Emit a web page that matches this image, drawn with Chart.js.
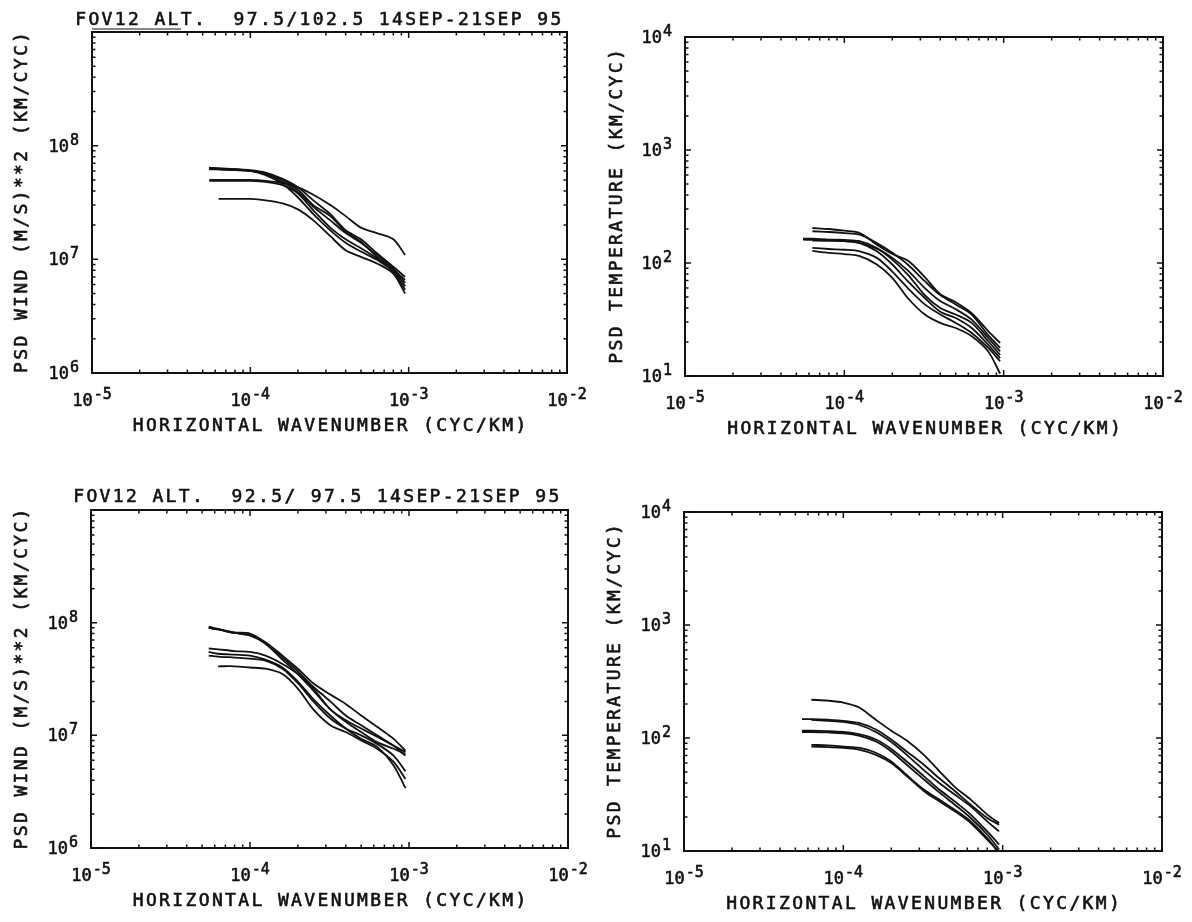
<!DOCTYPE html>
<html>
<head>
<meta charset="utf-8">
<script src="https://cdn.jsdelivr.net/npm/chart.js@4.4.1/dist/chart.umd.min.js"></script>
<style>
  html, body { margin: 0; padding: 0; background: #fff; }
  #page { position: relative; width: 1192px; height: 922px; background: #fff; }
  canvas { position: absolute; }
</style>
</head>
<body>
<div id="page">
  <canvas id="windHigh" width="596" height="461" style="left:0;top:0"></canvas>
  <canvas id="tempHigh" width="596" height="461" style="left:596px;top:0"></canvas>
  <canvas id="windLow" width="596" height="461" style="left:0;top:461px"></canvas>
  <canvas id="tempLow" width="596" height="461" style="left:596px;top:461px"></canvas>
</div>
<script>
// wavenumbers (cyc/km) where the spectra are sampled
const wavenumber = [5.5e-5, 6.3e-5, 8.0e-5, 1.0e-4, 1.25e-4, 1.6e-4, 2.0e-4, 2.5e-4, 3.2e-4, 4.0e-4, 5.0e-4, 6.3e-4, 8.0e-4, 9.5e-4];

// tick labels (powers of ten)
const xTickExps = [-5, -4, -3, -2];
const windTickExps = [6, 7, 8];
const tempTickExps = [1, 2, 3, 4];

// titles
const titleHigh = "FOV12 ALT.  97.5/102.5 14SEP-21SEP 95";
const titleLow = "FOV12 ALT.  92.5/ 97.5 14SEP-21SEP 95";
const windAxisTitle = "PSD WIND (M/S)**2 (KM/CYC)";
const tempAxisTitle = "PSD TEMPERATURE (KM/CYC)";
const xAxisTitle = "HORIZONTAL WAVENUMBER (CYC/KM)";

// 97.5/102.5 km wind spectra
const windHigh = [
  [6.4e7, 6.3e7, 6.2e7, 6.1e7, 5.8e7, 5.1e7, 4.3e7, 3.3e7, 2.5e7, 1.8e7, 1.5e7, 1.13e7, 8.6e6, 7.0e6],
  [6.3e7, 6.2e7, 6.1e7, 6.0e7, 5.6e7, 4.8e7, 3.9e7, 2.9e7, 2.2e7, 1.7e7, 1.4e7, 1.09e7, 8.3e6, 6.2e6],
  [6.2e7, 6.2e7, 6.1e7, 6.0e7, 5.5e7, 4.6e7, 3.5e7, 2.5e7, 1.8e7, 1.4e7, 1.17e7, 9.9e6, 7.8e6, 5.4e6],
  [5.0e7, 5.0e7, 5.0e7, 5.0e7, 4.9e7, 4.7e7, 4.3e7, 3.7e7, 3.0e7, 2.4e7, 1.9e7, 1.7e7, 1.5e7, 1.09e7],
  [4.9e7, 4.9e7, 4.9e7, 4.9e7, 4.8e7, 4.5e7, 3.8e7, 2.7e7, 1.9e7, 1.5e7, 1.25e7, 1.02e7, 8.1e6, 6.6e6],
  [null, 3.4e7, 3.4e7, 3.4e7, 3.3e7, 3.1e7, 2.75e7, 2.2e7, 1.6e7, 1.2e7, 1.05e7, 9.2e6, 7.5e6, 5.0e6],
  [6.3e7, 6.3e7, 6.2e7, 6.0e7, 5.7e7, 5.0e7, 4.1e7, 3.0e7, 2.4e7, 1.75e7, 1.43e7, 1.05e7, 8.1e6, 5.8e6]
];

// 97.5/102.5 km temperature spectra
const tempHigh = [
  [null, 204, 200, 193, 184, 145, 120, 105, 75, 53, 45, 36, 25, 19.6],
  [null, 191, 188, 184, 178, 150, 123, 97, 69, 52, 43, 35, 23, 17.7],
  [164, 164, 161, 160, 156, 136, 107, 79, 52, 40, 35, 29.5, 20.3, 15.4],
  [null, 158, 158, 156, 150, 127, 97, 69, 49, 37, 32.6, 26.6, 18.9, 14.4],
  [null, 136, 133, 131, 127, 111, 84, 60, 43, 35, 29.5, 24, 17.7, 13.5],
  [null, 128, 123, 120, 115, 97, 74, 49, 35, 29.5, 26.6, 22.5, 16.5, 10.5],
  [161, 160, 158, 156, 151, 134, 111, 86, 60, 46, 39, 31.5, 21.7, 16.5]
];

// 92.5/97.5 km wind spectra
const windLow = [
  [9.2e7, 8.8e7, 8.2e7, 8.0e7, 6.7e7, 5.1e7, 3.9e7, 2.9e7, 2.3e7, 1.9e7, 1.5e7, 1.19e7, 9.3e6, 7.3e6],
  [9.0e7, 8.7e7, 8.1e7, 7.7e7, 6.5e7, 4.7e7, 3.5e7, 2.5e7, 1.7e7, 1.36e7, 1.15e7, 9.7e6, 8.1e6, 7.1e6],
  [5.9e7, 5.8e7, 5.6e7, 5.5e7, 5.1e7, 4.3e7, 3.5e7, 2.6e7, 1.7e7, 1.32e7, 1.07e7, 8.7e6, 7.6e6, 6.8e6],
  [5.1e7, 5.0e7, 4.9e7, 4.8e7, 4.6e7, 3.9e7, 2.9e7, 2.0e7, 1.41e7, 1.15e7, 1.0e7, 8.4e6, 6.6e6, 4.8e6],
  [null, 4.1e7, 4.1e7, 4.0e7, 3.9e7, 3.5e7, 2.6e7, 1.7e7, 1.23e7, 1.07e7, 9.0e6, 7.6e6, 5.8e6, 4.1e6],
  [5.5e7, 5.3e7, 5.2e7, 5.1e7, 4.7e7, 4.0e7, 3.0e7, 2.1e7, 1.5e7, 1.15e7, 9.3e6, 7.9e6, 5.4e6, 3.4e6],
  [9.0e7, 8.7e7, 8.1e7, 7.7e7, 6.6e7, 4.9e7, 3.7e7, 2.7e7, 2.0e7, 1.5e7, 1.23e7, 1.0e7, 8.1e6, 6.6e6]
];

// 92.5/97.5 km temperature spectra
const tempLow = [
  [null, 218, 214, 206, 187, 145, 116, 95, 71, 51, 37, 28.5, 21, 17.7],
  [147, 147, 145, 142, 136, 119, 97, 76, 58, 44, 34, 25.7, 19.6, 17.1],
  [null, 145, 142, 139, 131, 113, 92, 71, 52, 40, 31.6, 24.8, 18.3, 14.9],
  [116, 116, 115, 113, 108, 97, 80, 62, 46, 35, 27.5, 21, 14.9, 11.4],
  [113, 113, 112, 110, 105, 93, 76, 58, 43, 33, 25.7, 19.6, 14.0, 10.3],
  [null, 87, 86, 84, 82, 74, 62, 47, 35, 28.5, 23.2, 18.3, 13.0, 9.6],
  [null, 84, 83, 82, 79, 71, 60, 46, 34, 27.5, 22.5, 17.7, 12.6, 9.8]
];

const INK = "#111";
const TEXT_FONT = '18px "DejaVu Sans Mono", monospace';
const BASE_FONT = '17px "DejaVu Sans Mono", monospace';
const SUP_FONT = '15px "DejaVu Sans Mono", monospace';
const STEP = 13.2;

// draw text a bit heavier, like plotter pen lettering
function inkText(ctx, s, x, y) {
  ctx.fillText(s, x, y);
  ctx.strokeText(s, x, y);
}

// monospaced text with a wide character cell
function cellText(ctx, text, x, y) {
  ctx.textAlign = "center";
  for (let i = 0; i < text.length; i++) {
    if (text[i] !== " ") inkText(ctx, text[i], x + (i + 0.5) * STEP, y);
  }
}

function powerLabel(ctx, exp, x, y, align) {
  const sup = String(exp);
  ctx.textAlign = "left";
  ctx.font = BASE_FONT;
  const bw = ctx.measureText("10").width;
  ctx.font = SUP_FONT;
  const sw = ctx.measureText(sup).width;
  const total = bw + 1 + sw;
  const left = align === "center" ? x - total / 2 : x - total;
  ctx.font = BASE_FONT;
  inkText(ctx, "10", left, y);
  ctx.font = SUP_FONT;
  inkText(ctx, sup, left + bw + 1, y - 7);
}

function logSteps(min, max) {
  const out = [];
  for (let e = Math.round(Math.log10(min)); e < Math.round(Math.log10(max)); e++) {
    for (let m = 1; m < 10; m++) out.push([m * Math.pow(10, e), m === 1]);
  }
  out.push([max, true]);
  return out;
}

const framePlugin = {
  id: "frame",
  afterDraw(chart, args, opts) {
    const { ctx, chartArea: a, scales } = chart;
    const xs = scales.x, ys = scales.y;
    ctx.save();
    ctx.strokeStyle = INK;
    ctx.fillStyle = INK;

    // frame
    ctx.lineWidth = 2;
    ctx.strokeRect(a.left, a.top, a.right - a.left, a.bottom - a.top);

    // inward ticks on all four sides
    ctx.lineWidth = 1.5;
    ctx.beginPath();
    logSteps(xs.min, xs.max).forEach(([v, major]) => {
      const px = xs.getPixelForValue(v);
      const len = major ? 6 : 3.5;
      ctx.moveTo(px, a.bottom); ctx.lineTo(px, a.bottom - len);
      ctx.moveTo(px, a.top); ctx.lineTo(px, a.top + len);
    });
    logSteps(ys.min, ys.max).forEach(([v, major]) => {
      const py = ys.getPixelForValue(v);
      const len = major ? 6 : 3.5;
      ctx.moveTo(a.left, py); ctx.lineTo(a.left + len, py);
      ctx.moveTo(a.right, py); ctx.lineTo(a.right - len, py);
    });
    ctx.stroke();

    // tick labels
    ctx.lineWidth = 0.6;
    ctx.textBaseline = "alphabetic";
    xTickExps.forEach((e) => {
      powerLabel(ctx, e, xs.getPixelForValue(Math.pow(10, e)), a.bottom + 33, "center");
    });
    opts.yTicks.forEach((e) => {
      powerLabel(ctx, e, a.left - 13, ys.getPixelForValue(Math.pow(10, e)) + 6, "right");
    });

    // titles
    ctx.font = TEXT_FONT;
    cellText(ctx, opts.title || "", opts.titleX, opts.titleY);
    const xw = xAxisTitle.length * STEP;
    cellText(ctx, xAxisTitle, (a.left + a.right) / 2 - xw / 2, a.bottom + 58);

    ctx.save();
    ctx.translate(opts.yTitleX, (a.top + a.bottom) / 2);
    ctx.rotate(-Math.PI / 2);
    ctx.textBaseline = "middle";
    cellText(ctx, opts.yTitle, -(opts.yTitle.length * STEP) / 2, 0);
    ctx.restore();

    if (opts.underline) {
      ctx.lineWidth = 1;
      ctx.beginPath();
      ctx.moveTo(a.left, a.top - 3);
      ctx.lineTo(a.left + 89, a.top - 3);
      ctx.stroke();
    }
    ctx.restore();
  }
};

function makePanel(id, series, yMin, yMax, frame, padding) {
  const datasets = series.map((vals) => ({
    data: wavenumber.map((k, i) => ({ x: k, y: vals[i] })),
    borderColor: INK,
    borderWidth: 1.8,
    pointRadius: 0,
    tension: 0.3,
    fill: false
  }));
  return new Chart(document.getElementById(id), {
    type: "line",
    data: { datasets },
    plugins: [framePlugin],
    options: {
      responsive: false,
      animation: false,
      layout: { padding },
      scales: {
        x: { type: "logarithmic", min: 1e-5, max: 1e-2, display: false },
        y: { type: "logarithmic", min: yMin, max: yMax, display: false }
      },
      plugins: {
        legend: { display: false },
        tooltip: { enabled: false },
        frame
      }
    }
  });
}

makePanel("windHigh", windHigh, 1e6, 1e9,
  { title: titleHigh, titleX: 74, titleY: 25, yTitle: windAxisTitle, yTitleX: 22, yTicks: windTickExps, underline: true },
  { left: 92, top: 32, right: 29, bottom: 88 });

makePanel("tempHigh", tempHigh, 1e1, 1e4,
  { title: "", titleX: 0, titleY: 0, yTitle: tempAxisTitle, yTitleX: 21, yTicks: tempTickExps },
  { left: 89, top: 37, right: 29, bottom: 85 });

makePanel("windLow", windLow, 1e6, 1e9,
  { title: titleLow, titleX: 72, titleY: 41, yTitle: windAxisTitle, yTitleX: 22, yTicks: windTickExps },
  { left: 91, top: 49, right: 28, bottom: 74 });

makePanel("tempLow", tempLow, 1e1, 1e4,
  { title: "", titleX: 0, titleY: 0, yTitle: tempAxisTitle, yTitleX: 19, yTicks: tempTickExps },
  { left: 88, top: 51, right: 30, bottom: 71 });
</script>
</body>
</html>
